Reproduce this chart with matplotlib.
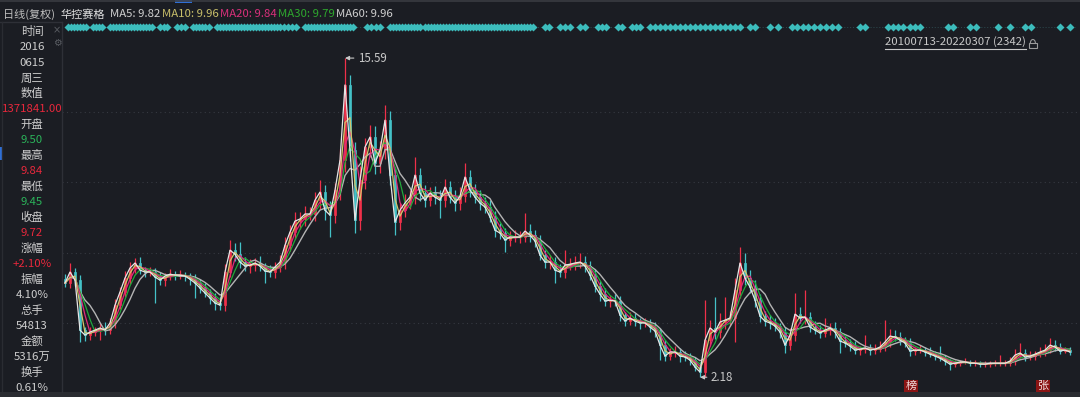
import numpy as np
import pandas as pd
import matplotlib as mpl
mpl.use('Agg')  # no display
import matplotlib.pyplot as plt
from matplotlib import transforms
from matplotlib.lines import Line2D
from matplotlib.patches import Rectangle, Arc

plt.rcParams['font.family'] = ['Noto Sans CJK SC', 'DejaVu Sans']

# --------------------------
# Data (one bar ~ 11.6 trading days)
# --------------------------
closes = [
    6.14, 6.60, 6.26, 4.16, 3.95, 4.08, 4.16, 4.25, 4.16, 4.46,
    5.21, 5.76, 6.35, 6.77, 6.98, 6.68, 6.60, 6.60, 6.39, 6.26,
    6.43, 6.51, 6.47, 6.47, 6.43, 6.30, 6.14, 5.93, 5.72, 5.51,
    5.30, 5.21, 6.60, 7.52, 7.35, 7.02, 6.85, 6.89, 6.98, 6.85,
    6.64, 6.60, 6.81, 7.02, 7.73, 8.28, 8.74, 8.83, 9.04, 9.04,
    9.62, 9.96, 9.20, 8.99, 10.04, 11.30, 14.46, 11.72, 8.78, 10.46,
    11.85, 12.27, 11.18, 11.72, 12.98, 10.67, 8.70, 9.20, 9.50, 9.75,
    10.67, 9.92, 9.62, 9.92, 9.75, 9.62, 10.17, 9.75, 9.50, 9.79,
    10.59, 10.04, 9.75, 9.50, 9.33, 8.91, 8.36, 8.24, 7.94, 8.07,
    8.07, 8.07, 8.32, 8.15, 7.90, 7.31, 7.02, 7.02, 6.68, 6.60,
    6.89, 6.93, 6.98, 7.02, 6.85, 6.47, 6.01, 5.67, 5.38, 5.42,
    5.38, 4.79, 4.54, 4.67, 4.54, 4.46, 4.46, 4.29, 4.12, 3.53,
    3.07, 3.24, 3.24, 3.07, 3.03, 2.90, 2.61, 2.40, 3.74, 4.25,
    4.08, 4.50, 4.58, 4.67, 5.84, 6.98, 6.35, 5.97, 5.42, 4.75,
    4.54, 4.46, 4.33, 4.08, 3.53, 3.95, 4.83, 4.67, 4.71, 4.29,
    4.16, 4.04, 4.16, 4.25, 4.08, 3.70, 3.62, 3.49, 3.32, 3.36,
    3.41, 3.32, 3.36, 3.45, 3.66, 3.91, 3.87, 3.74, 3.62, 3.28,
    3.32, 3.32, 3.24, 3.15, 3.07, 2.98, 2.86, 2.73, 2.77, 2.82,
    2.82, 2.77, 2.77, 2.73, 2.73, 2.77, 2.77, 2.77, 2.77, 2.86,
    3.11, 3.20, 3.03, 3.07, 3.15, 3.24, 3.32, 3.53, 3.45, 3.28,
    3.32, 3.24,
]
first_open = 6.30

upper_wick = [
    0.20, 0.38, 0.15, 0.20, 0.15, 0.20, 0.15, 0.20, 0.25, 0.20,
    0.25, 0.20, 0.30, 0.25, 0.20, 0.25, 0.15, 0.20, 0.15, 0.20,
    0.15, 0.20, 0.15, 0.20, 0.15, 0.15, 0.20, 0.15, 0.20, 0.15,
    0.20, 0.25, 0.35, 0.42, 0.30, 0.50, 0.20, 0.25, 0.20, 0.30,
    0.15, 0.25, 0.20, 0.30, 0.35, 0.30, 0.40, 0.30, 0.35, 0.30,
    0.34, 0.50, 0.30, 0.40, 0.30, 0.45, 1.13, 0.40, 0.35, 0.60,
    0.40, 0.50, 0.45, 0.40, 0.63, 0.40, 0.35, 0.30, 0.40, 0.30,
    0.76, 0.30, 0.35, 0.25, 0.30, 0.30, 0.35, 0.25, 0.30, 0.40,
    0.59, 0.30, 0.25, 0.30, 0.25, 0.30, 0.25, 0.30, 0.20, 0.25,
    0.30, 0.25, 0.76, 0.30, 0.20, 0.25, 0.20, 0.30, 0.20, 0.25,
    0.63, 0.25, 0.30, 0.38, 0.25, 0.20, 0.25, 0.20, 0.25, 0.20,
    0.25, 0.20, 0.15, 0.25, 0.20, 0.15, 0.20, 0.15, 0.20, 0.15,
    0.20, 0.15, 0.25, 0.15, 0.20, 0.15, 0.15, 0.20, 1.68, 0.35,
    1.29, 0.40, 0.96, 0.30, 0.50, 0.67, 0.40, 0.35, 0.30, 0.25,
    0.20, 0.25, 0.20, 0.15, 0.20, 0.30, 0.89, 0.30, 1.13, 0.20,
    0.25, 0.20, 0.51, 0.20, 0.25, 0.15, 0.20, 0.15, 0.20, 0.15,
    0.54, 0.15, 0.20, 0.25, 0.92, 0.30, 0.25, 0.20, 0.15, 0.20,
    0.15, 0.20, 0.15, 0.20, 0.15, 0.42, 0.15, 0.10, 0.15, 0.10,
    0.15, 0.10, 0.12, 0.10, 0.15, 0.10, 0.12, 0.34, 0.12, 0.15,
    0.25, 0.42, 0.15, 0.20, 0.15, 0.20, 0.25, 0.30, 0.20, 0.15,
    0.15, 0.12,
]

lower_wick = [
    0.15, 0.20, 0.25, 0.50, 0.25, 0.20, 0.15, 0.42, 0.20, 0.15,
    0.20, 0.15, 0.20, 0.25, 0.20, 0.15, 0.20, 0.15, 1.09, 0.20,
    0.25, 0.15, 0.20, 0.15, 0.20, 0.25, 0.63, 0.20, 0.15, 0.25,
    0.30, 0.20, 0.25, 0.20, 0.30, 0.25, 0.20, 0.30, 0.25, 0.20,
    0.50, 0.20, 0.25, 0.20, 0.30, 0.25, 0.30, 0.35, 0.30, 0.25,
    0.30, 0.35, 0.40, 0.92, 0.35, 0.40, 0.50, 0.45, 0.54, 0.40,
    0.35, 0.40, 0.45, 0.40, 0.35, 0.40, 0.55, 0.35, 0.30, 0.25,
    0.30, 0.35, 0.30, 0.25, 0.30, 0.75, 0.30, 0.25, 0.35, 0.30,
    0.25, 0.30, 0.25, 0.30, 0.25, 0.20, 0.30, 0.25, 0.50, 0.25,
    0.20, 0.25, 0.20, 0.30, 0.25, 0.20, 0.25, 0.30, 0.54, 0.20,
    0.25, 0.20, 0.25, 0.20, 0.25, 0.20, 0.25, 0.30, 0.20, 0.25,
    0.20, 0.25, 0.20, 0.15, 0.20, 0.25, 0.15, 0.20, 0.25, 0.63,
    0.20, 0.15, 0.20, 0.25, 0.15, 0.20, 0.15, 0.22, 0.20, 0.25,
    0.30, 0.25, 0.30, 0.25, 1.00, 0.35, 0.30, 0.25, 0.30, 0.25,
    0.20, 0.25, 0.20, 0.25, 0.33, 0.20, 0.25, 0.20, 0.25, 0.20,
    0.15, 0.20, 0.15, 0.20, 0.25, 0.50, 0.15, 0.20, 0.15, 0.20,
    0.15, 0.20, 0.15, 0.12, 0.15, 0.20, 0.15, 0.20, 0.15, 0.20,
    0.15, 0.12, 0.15, 0.10, 0.15, 0.12, 0.15, 0.25, 0.10, 0.12,
    0.10, 0.12, 0.10, 0.12, 0.10, 0.12, 0.10, 0.12, 0.10, 0.12,
    0.15, 0.12, 0.15, 0.12, 0.15, 0.12, 0.15, 0.12, 0.15, 0.12,
    0.10, 0.12,
]

# event markers on the top row (bar index)
event_idx = [
    0.6, 1.2, 1.8, 2.4, 3.0, 3.6, 4.2, 5.6, 6.2, 6.8, 7.4,
    9.0, 9.6, 10.2, 10.8, 11.4, 12.0, 12.6, 13.2, 13.8, 14.4, 15.0, 15.6, 16.2, 16.8, 17.4,
    19.0, 19.8, 20.4, 22.4, 23.2, 24.0, 25.6, 26.2, 26.8, 27.4, 28.0, 28.8,
    30.4, 31.0, 31.6, 32.2, 32.8, 33.4, 34.0, 34.6, 35.2, 35.8, 36.4, 37.0, 37.6, 38.2,
    38.8, 39.4, 40.0, 40.6, 41.2, 41.8, 42.4, 43.0, 43.8, 44.6, 45.4, 46.2,
    48.0, 48.6, 49.2, 49.8, 50.4, 51.0, 51.6, 52.2, 52.8, 53.4, 54.0, 54.6, 55.2, 55.8,
    56.4, 57.0, 57.6, 60.4, 61.2, 62.2, 63.0,
    65.0, 65.6, 66.2, 66.8, 67.4, 68.0, 68.6, 69.2, 69.8, 70.4, 71.0,
    72.0, 72.6, 73.2, 73.8, 74.4, 75.0, 75.6, 76.2, 76.8, 77.4, 78.0, 78.6, 79.2, 79.8,
    80.4, 81.0, 81.6, 82.2, 82.8, 83.4, 84.0, 84.6, 85.2, 85.8, 86.4, 87.0, 87.6, 88.2,
    88.8, 89.4, 90.0, 90.6, 91.2, 91.8, 92.4, 93.0, 93.6,
    96.0, 96.8, 99.0, 100.0, 101.0, 103.0, 104.0, 106.6, 107.4, 108.2, 110.6, 111.4,
    113.4, 114.2, 115.0, 117.0, 118.0, 119.0, 120.0, 121.0, 122.0, 123.0, 124.0,
    125.0, 126.0, 127.0, 128.0, 129.0, 130.0, 131.0, 132.0, 133.0, 134.0, 135.0,
    137.0, 138.0, 141.0, 142.6, 145.4, 146.4, 147.6, 148.6, 149.8, 151.0, 152.2,
    153.4, 154.6, 159.0, 160.0, 164.6, 165.6, 166.6, 167.6, 169.0, 170.0, 171.0,
    176.6, 177.6, 181.0, 182.2, 186.6, 189.0, 192.0, 193.2, 199.0, 201.0,
]

badge_text = ['榜', '张']
badge_idx = [169.2, 195.6]

header_title = '日线(复权)'
stock_name = '华控赛格'
ma_names = ['MA5', 'MA10', 'MA20', 'MA30', 'MA60']
ma_values = [9.82, 9.96, 9.84, 9.79, 9.96]

info_texts = ['时间', '2016', '0615', '周三', '数值', '1371841.00', '开盘', '9.50',
              '最高', '9.84', '最低', '9.45', '收盘', '9.72', '涨幅', '+2.10%',
              '振幅', '4.10%', '总手', '54813', '金额', '5316万', '换手', '0.61%']
info_kind = ['n', 'n', 'n', 'n', 'n', 'up', 'n', 'dn', 'n', 'up', 'n', 'dn',
             'n', 'up', 'n', 'up', 'n', 'n', 'n', 'n', 'n', 'n', 'n', 'n']

range_label = '20100713-20220307 (2342)'
grid_levels = [13.32, 10.38, 7.40, 4.46]

# --------------------------
# Style
# --------------------------
W, H = 1080, 397
BG = '#1b1d23'
UP = '#f0304a'
DN = '#44c2c8'
TXT = '#cfcfcf'
ma_colors = ['#e6e6e6', '#d2c66c', '#e02a7c', '#22a83c', '#b4b4b4']
ma_label_colors = ['#d0d0d0', '#c9bf6a', '#d9307a', '#2ea82e', '#cfcfcf']
ma_bars = [1, 2, 3, 4, 6]   # MA windows expressed in resampled bars
info_color = {'n': TXT, 'up': '#e8283c', 'dn': '#2bb35a'}

c = np.array(closes)
o = np.r_[first_open, c[:-1]]
hi = np.maximum(o, c) + np.array(upper_wick)
lo = np.minimum(o, c) - np.array(lower_wick)
x = np.arange(len(c))


def fx(px):
    return px / W


def fy(py):
    return 1 - py / H


fig = plt.figure(figsize=(W / 100, H / 100), dpi=100, facecolor=BG)

# main price axes
ax = fig.add_axes([fx(62), fy(392), (1078 - 62) / W, (392 - 45) / H])
ax.set_facecolor(BG)
ax.set_xlim(-0.6, 202.6)
ax.set_ylim(1.56, 16.14)
ax.axis('off')

for g in grid_levels:
    ax.axhline(g, color='#363941', lw=0.8, ls=(0, (1, 3)), zorder=0)

up = c >= o
cols = np.where(up, UP, DN)
ax.vlines(x, lo, hi, colors=cols, lw=0.9, zorder=2)
ax.bar(x, np.abs(c - o), bottom=np.minimum(o, c), width=0.5,
       color=cols, edgecolor=cols, linewidth=0.5, zorder=3)

s = pd.Series(c)
for name, n, col in reversed(list(zip(ma_names, ma_bars, ma_colors))):
    ma = s.rolling(n, min_periods=1).mean()
    ax.plot(x, ma, color=col, lw=0.9 if name != 'MA60' else 1.0, zorder=4)

# max / min markers
imax, imin = int(np.argmax(hi)), int(np.argmin(lo))
arrow = dict(arrowstyle='-|>', color='#c8c8c8', lw=0.8, shrinkA=1, shrinkB=0,
             mutation_scale=6)
ax.annotate(f'{hi[imax]:.2f}', xy=(imax, hi[imax]), xytext=(13, 0),
            textcoords='offset pixels', ha='left', va='center', fontsize=8.3,
            color='#c8c8c8', arrowprops=arrow, zorder=6)
ax.annotate(f'{lo[imin]:.2f}', xy=(imin, lo[imin]), xytext=(11, 0),
            textcoords='offset pixels', ha='left', va='center', fontsize=8.3,
            color='#c8c8c8', arrowprops=arrow, zorder=6)

# badges at the bottom
bt = transforms.blended_transform_factory(ax.transData, fig.transFigure)
for t, xi in zip(badge_text, badge_idx):
    ax.text(xi, fy(386), t, transform=bt, ha='center', va='center', fontsize=8,
            color='#f2dede', zorder=7,
            bbox=dict(boxstyle='square,pad=0.12', fc='#8a1414', ec='none'))

# event row
ax_ev = fig.add_axes([fx(62), fy(33), (1078 - 62) / W, 12 / H])
ax_ev.set_xlim(-0.6, 202.6)
ax_ev.set_ylim(-1, 1)
ax_ev.axis('off')
ax_ev.plot([0.6, 202], [0, 0], color='#2d4b50', lw=0.7, ls=(0, (1, 2)))
ax_ev.plot(event_idx, np.zeros(len(event_idx)), ls='none', marker='D', ms=3.9,
           color='#3cbcbc', mec='none')

# header
fig.text(fx(3), fy(14), header_title, fontsize=8, color='#bdbdbd', va='center')
fig.text(fx(61), fy(14), stock_name, fontsize=8, color='#e0e0e0', va='center')
ma_x = [110, 162, 220, 278, 336]
for name, v, col, px in zip(ma_names, ma_values, ma_label_colors, ma_x):
    fig.text(fx(px), fy(14), f'{name}: {v:.2f}', fontsize=8.2, color=col, va='center')

# top border
fig.add_artist(Line2D([0, 1], [fy(1), fy(1)], color='#3a3c42', lw=1.2))
fig.add_artist(Rectangle((fx(175), fy(3)), 17 / W, 3 / H, color='#2f6fd6', lw=0))

# left info panel
fig.add_artist(Line2D([fx(62), fx(62)], [fy(22), fy(392)], color='#2e3037', lw=1))
fig.add_artist(Line2D([fx(0), fx(62)], [fy(22), fy(22)], color='#2e3037', lw=1))
fig.add_artist(Line2D([fx(1.5), fx(1.5)], [fy(22), fy(392)], color='#2a2c32', lw=1))
fig.add_artist(Rectangle((fx(0), fy(160)), 1.5 / W, 13 / H, color='#2f6fd6', lw=0))
for k, (t, kind) in enumerate(zip(info_texts, info_kind)):
    fig.text(fx(32), fy(32 + k * 15.48), t, fontsize=8.2, color=info_color[kind],
             ha='center', va='center')
fig.text(fx(57), fy(30), '×', fontsize=7, color='#5a5d63', ha='center', va='center',
         family='DejaVu Sans')
fig.text(fx(57), fy(43), '⚙', fontsize=7, color='#5a5d63', ha='center', va='center',
         family='DejaVu Sans')

# range label with underline and lock
rl = fig.text(fx(885), fy(42), range_label, fontsize=8.2, color='#c8c8c8', va='center')
fig.canvas.draw()
bb = rl.get_window_extent()
x0, x1 = bb.x0 / W, bb.x1 / W
fig.add_artist(Line2D([x0, x1], [fy(48.5), fy(48.5)], color='#c8c8c8', lw=0.8))
lx = bb.x1 + 3
fig.add_artist(Rectangle((lx / W, fy(48)), 8 / W, 5 / H, fill=False,
                         ec='#9a9a9a', lw=0.8))
fig.add_artist(Arc(((lx + 4) / W, fy(43)), 5 / W, 7 / H, theta1=0, theta2=180,
                   color='#9a9a9a', lw=0.8))

# bottom strip
fig.add_artist(Rectangle((0, 0), 1, 5 / H, color='#2a2c31', lw=0))

plt.savefig('out.png', dpi=100, facecolor=BG)
plt.close()
